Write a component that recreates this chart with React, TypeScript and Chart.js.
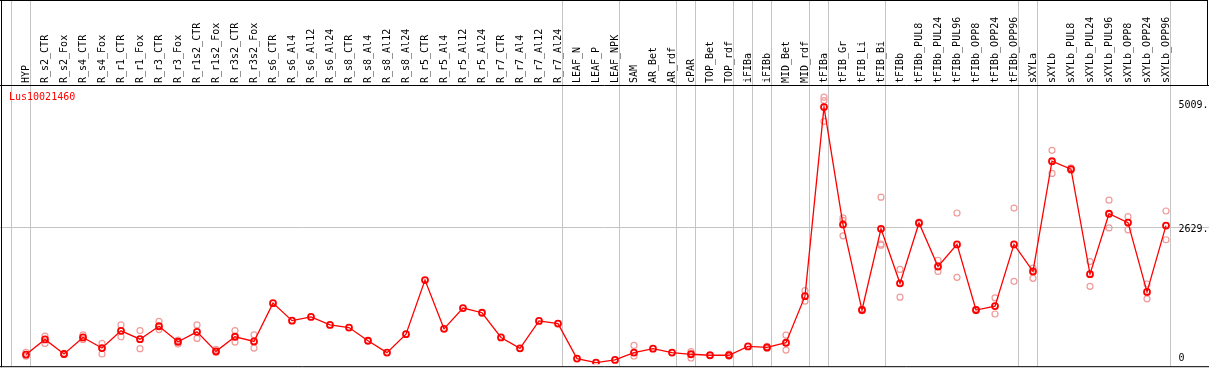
import React, { useEffect, useRef } from 'react';
import { Chart, registerables } from 'chart.js';

Chart.register(...registerables);

const geneId = 'Lus10021460';

const categories = [
  'HYP', 'R_s2_CTR', 'R_s2_Fox', 'R_s4_CTR', 'R_s4_Fox', 'R_r1_CTR', 'R_r1_Fox', 'R_r3_CTR', 'R_r3_Fox',
  'R_r1s2_CTR', 'R_r1s2_Fox', 'R_r3s2_CTR', 'R_r3s2_Fox', 'R_s6_CTR', 'R_s6_Al4', 'R_s6_Al12', 'R_s6_Al24',
  'R_s8_CTR', 'R_s8_Al4', 'R_s8_Al12', 'R_s8_Al24', 'R_r5_CTR', 'R_r5_Al4', 'R_r5_Al12', 'R_r5_Al24',
  'R_r7_CTR', 'R_r7_Al4', 'R_r7_Al12', 'R_r7_Al24', 'LEAF_N', 'LEAF_P', 'LEAF_NPK', 'SAM', 'AR_Bet', 'AR_rdf',
  'cPAR', 'TOP_Bet', 'TOP_rdf', 'iFIBa', 'iFIBb', 'MID_Bet', 'MID_rdf', 'tFIBa', 'tFIB_Gr', 'tFIB_Li', 'tFIB_Bi',
  'tFIBb', 'tFIBb_PUL8', 'tFIBb_PUL24', 'tFIBb_PUL96', 'tFIBb_OPP8', 'tFIBb_OPP24', 'tFIBb_OPP96',
  'sXYLa', 'sXYLb', 'sXYLb_PUL8', 'sXYLb_PUL24', 'sXYLb_PUL96', 'sXYLb_OPP8', 'sXYLb_OPP24', 'sXYLb_OPP96',
];

const means = [
  184, 474, 195, 512, 309, 639, 479, 726, 430, 620, 246, 525, 436,
  1169, 834, 904, 752, 701, 449, 222, 574, 1611, 677, 1074, 985, 512, 303, 828, 777,
  108, 32, 81, 222, 298, 222, 190, 171, 171, 341, 322, 411, 1302,
  4921, 2672, 1037, 2591, 1548, 2704, 1870, 2293, 1037, 1112, 2293,
  1776, 3885, 3733, 1724, 2880, 2710, 1383, 2653,
];

const rep1 = [
  227, 536, 205, 563, 398, 752, 644, 821, 460, 752, 284, 644, 563,
  null, null, null, null, null, null, null, null, null, null, null, null, null, null, null, null,
  null, null, null, 360, null, null, 241, null, 195, null, 341, 555, 1408,
  5111, 2799, 1050, 3197, 1814, 2720, 1990, 2894, 1050, 1270, 2988,
  1838, 4093, 3760, 1965, 3140, 2824, 1535, 2932,
];

const rep2 = [
  152, 398, 185, 474, 195, 525, 298, 663, 385, 493, 222, 423, 309,
  null, null, null, null, null, null, null, null, null, null, null, null, null, null, null, null,
  null, null, null, 157, null, null, 119, null, 152, null, 303, 271, 1207,
  5046, 2753, 1025, 2299, 1283, 2690, 1776, 1662, 1025, 961, 1586,
  1643, 3652, 3710, 1491, 2609, 2572, 1251, 2382,
];

const rep3 = [
  null, null, null, null, null, null, null, null, null, null, null, null, null,
  null, null, null, null, null, null, null, null, null, null, null, null, null, null, null, null,
  null, null, null, null, null, null, null, null, null, null, null, null, null,
  4648, 2458, null, 2277, null, null, null, null, null, null, null,
  null, null, null, null, null, null, null, null,
];

const yTickValues = [0, 2629, 5009];
const yTickLabels = ['0', '2629.', '5009.'];
const yMax = 5325;
const referenceLine = 2629;
// separators are drawn after this many categories
const groupBreaks = [0, 1, 29, 32, 35, 36, 38, 39, 40, 42, 43, 46, 53, 54, 61];

const FONT = '"DejaVu Sans Mono", "Liberation Mono", monospace';

export default function App() {
  const ref = useRef<HTMLCanvasElement>(null);

  useEffect(() => {
    const canvas = ref.current;
    if (!canvas) return;

    const decor = {
      id: 'decor',
      beforeDraw(chart: any) {
        const ctx = chart.ctx;
        const xs = chart.scales.x;
        const ys = chart.scales.y;
        const bottom = chart.chartArea.bottom + 2;
        ctx.save();
        ctx.strokeStyle = '#c4c4c4';
        ctx.lineWidth = 1;
        ctx.beginPath();
        for (const k of groupBreaks) {
          const x = Math.round(xs.getPixelForValue(k - 1) + 4) + 0.5;
          ctx.moveTo(x, 0);
          ctx.lineTo(x, bottom);
        }
        const y = Math.round(ys.getPixelForValue(referenceLine)) + 0.5;
        ctx.moveTo(0, y);
        ctx.lineTo(chart.width, y);
        ctx.stroke();
        ctx.restore();
      },
      afterDraw(chart: any) {
        const ctx = chart.ctx;
        const top = chart.chartArea.top;
        const bottom = chart.chartArea.bottom + 2;
        const w = chart.width;
        ctx.save();
        ctx.strokeStyle = '#000';
        ctx.lineWidth = 1;
        ctx.beginPath();
        ctx.moveTo(0, 0.5);
        ctx.lineTo(w - 1, 0.5);
        ctx.moveTo(0, top - 0.5);
        ctx.lineTo(w, top - 0.5);
        ctx.moveTo(1.5, 0);
        ctx.lineTo(1.5, bottom + 1);
        ctx.moveTo(0, bottom + 0.5);
        ctx.lineTo(w, bottom + 0.5);
        ctx.moveTo(w - 1.5, 0);
        ctx.lineTo(w - 1.5, top);
        ctx.stroke();
        ctx.fillStyle = '#ff0000';
        ctx.font = '10px ' + FONT;
        ctx.textBaseline = 'middle';
        ctx.textAlign = 'left';
        ctx.fillText(geneId, 9, top + 11);
        ctx.restore();
      },
    };

    const repStyle = {
      showLine: false,
      pointRadius: 3,
      pointBorderWidth: 1.2,
      pointBorderColor: '#f09a9a',
      pointBackgroundColor: 'rgba(0,0,0,0)',
      borderColor: '#f09a9a',
    };

    const chart = new Chart(canvas, {
      type: 'line',
      data: {
        labels: categories,
        datasets: [
          {
            label: 'mean',
            data: means,
            borderColor: '#ff0000',
            borderWidth: 1.3,
            pointRadius: 3,
            pointBorderWidth: 1.8,
            pointBorderColor: '#ff0000',
            pointBackgroundColor: 'rgba(0,0,0,0)',
            tension: 0,
            order: 0,
          },
          { label: 'rep1', data: rep1, order: 1, ...repStyle },
          { label: 'rep2', data: rep2, order: 2, ...repStyle },
          { label: 'rep3', data: rep3, order: 3, ...repStyle },
        ],
      },
      options: {
        animation: false,
        responsive: false,
        maintainAspectRatio: false,
        layout: { padding: { left: 16.5, right: 0, top: 0, bottom: 3 } },
        plugins: {
          legend: { display: false },
          tooltip: { enabled: false },
          title: { display: false },
        },
        scales: {
          x: {
            type: 'category',
            position: 'top',
            offset: true,
            grid: { display: false, drawTicks: false },
            border: { display: false },
            ticks: {
              autoSkip: false,
              minRotation: 90,
              maxRotation: 90,
              padding: 3,
              labelOffset: 12,
              color: '#000',
              font: { family: FONT, size: 10 },
            },
            afterFit: (s: any) => {
              s.height = 86;
              s.paddingLeft = 0;
              s.paddingRight = 0;
            },
          },
          y: {
            position: 'right',
            min: 0,
            max: yMax,
            grid: { display: false, drawTicks: false },
            border: { display: false },
            afterBuildTicks: (s: any) => {
              s.ticks = yTickValues.map((v) => ({ value: v }));
            },
            ticks: {
              align: 'start',
              padding: 3,
              labelOffset: -2,
              color: '#000',
              font: { family: FONT, size: 10, lineHeight: 1.66 },
              callback: (v: any) => {
                const i = yTickValues.indexOf(Number(v));
                const t = i >= 0 ? yTickLabels[i] : '';
                return Number(v) === 0 ? [t, ''] : t;
              },
            },
            afterFit: (s: any) => {
              s.width = 33.5;
              s.paddingTop = 0;
              s.paddingBottom = 0;
            },
          },
        },
      },
      plugins: [decor],
    } as any);

    return () => chart.destroy();
  }, []);

  return (
    <canvas
      ref={ref}
      width={1209}
      height={370}
      style={{ position: 'absolute', left: 0, top: 0, display: 'block' }}
    />
  );
}
